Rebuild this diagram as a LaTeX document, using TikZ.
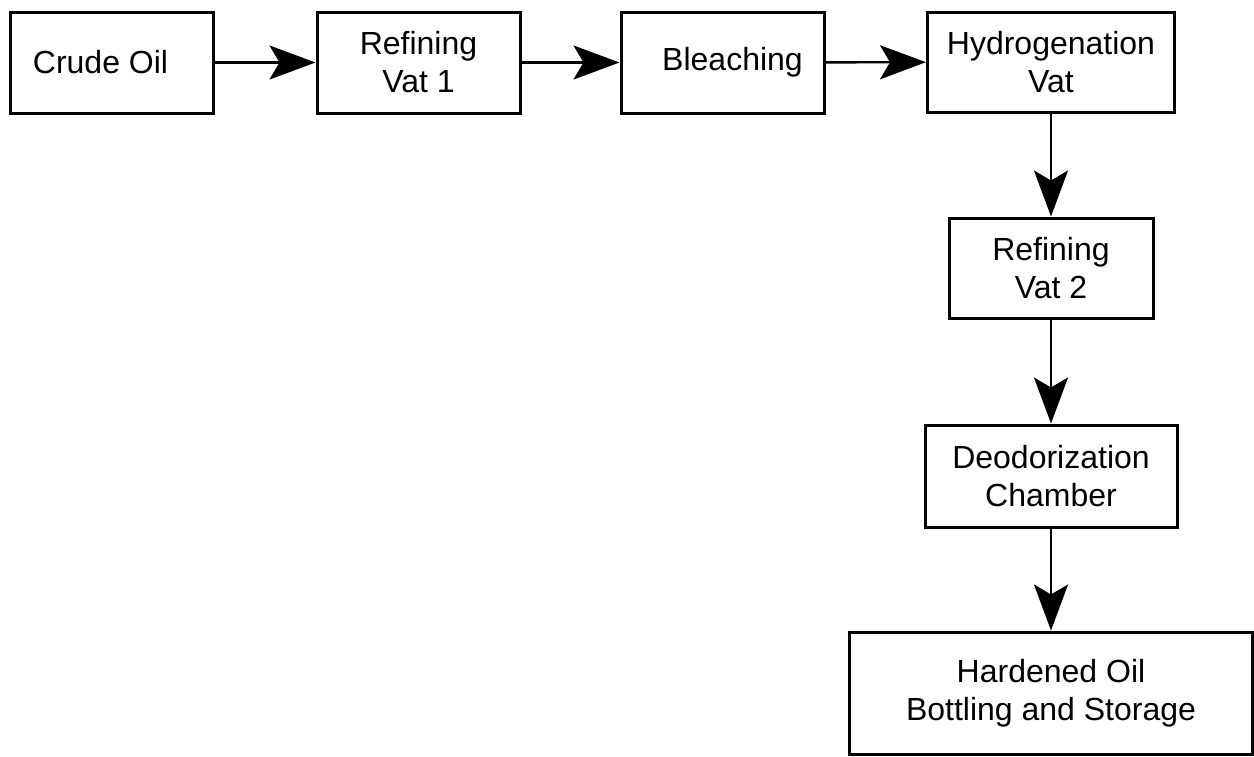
\documentclass[tikz,border=0pt]{standalone}
\usepackage{fontspec}
\setmainfont{Liberation Sans}
\usetikzlibrary{arrows.meta}
\tikzset{
  stage/.style={draw=black, line width=1.5pt, rectangle, inner sep=0pt,
    align=center, font=\fontsize{16pt}{19pt}\selectfont},
  flow/.style={line width=1.2pt,
    -{Stealth[length=23pt, width=17pt, inset=5pt]}}
}
\begin{document}
\begin{tikzpicture}[x=0.5pt, y=-0.5pt]
  \useasboundingbox (0,0) rectangle (1254,756);
  % top row, left to right
  \node[stage, minimum width=101.5pt, minimum height=50.5pt] (crude) at (111.5,62.5) {Crude Oil\hspace*{11pt}};
  \node[stage, minimum width=101.5pt, minimum height=50.5pt] (ref1) at (418.5,62.5) {Refining\\Vat 1};
  \node[stage, minimum width=101.5pt, minimum height=50.5pt] (bleach) at (722.5,62.5) {\hspace*{10pt}Bleaching};
  \node[stage, minimum width=123.5pt, minimum height=50pt] (hydro) at (1051,62) {Hydrogenation\\Vat};
  % right column, top to bottom
  \node[stage, minimum width=102pt, minimum height=50pt] (ref2) at (1051,268) {Refining\\Vat 2};
  \node[stage, minimum width=126pt, minimum height=51pt] (deo) at (1051,476) {Deodorization\\Chamber};
  \node[stage, minimum width=201.5pt, minimum height=61pt] (store) at (1051,693) {Hardened Oil\\Bottling and Storage};
  % connectors
  \draw[flow] (crude) -- (ref1);
  \draw[flow] (ref1) -- (bleach);
  \draw[flow] (bleach) -- (hydro);
  \draw[flow] (hydro) -- (ref2);
  \draw[flow] (ref2) -- (deo);
  \draw[flow] (deo) -- (store);
\end{tikzpicture}
\end{document}
